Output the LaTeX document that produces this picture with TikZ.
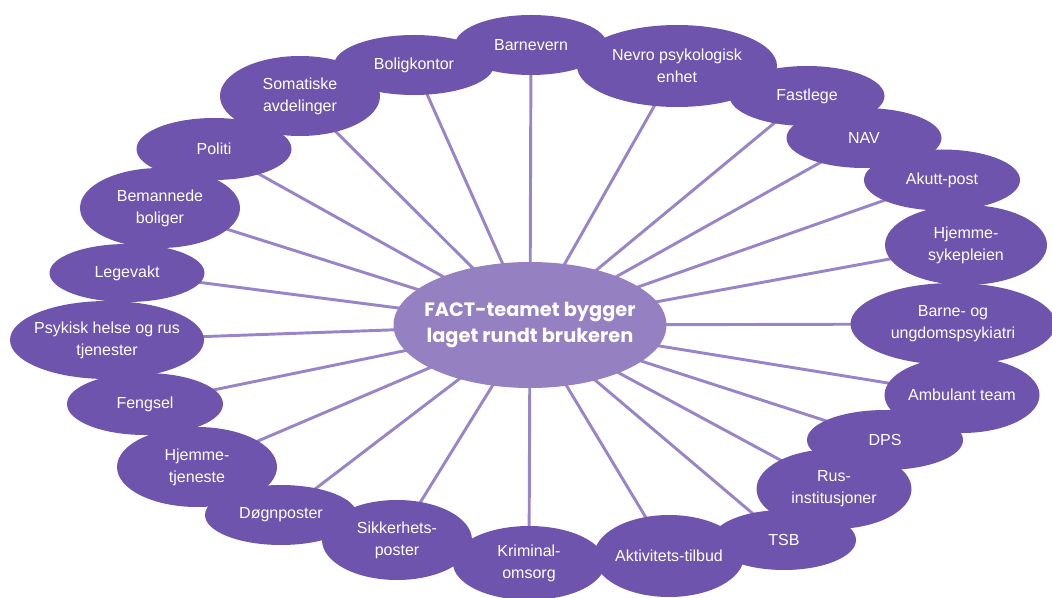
\documentclass[tikz,border=0pt]{standalone}
\usepackage{fontspec}
\setmainfont{Liberation Sans}
\newfontfamily\hubfont{Poppins}
\usetikzlibrary{shapes.geometric}
\definecolor{satpurple}{HTML}{6E54AD}
\definecolor{hubpurple}{HTML}{9580C1}
\definecolor{linkpurple}{HTML}{9A84C8}
\pgfdeclarelayer{bg}
\pgfsetlayers{bg,main}

\begin{document}
\begin{tikzpicture}[x=0.75pt,y=-0.75pt,
  sat/.style={ellipse,fill=satpurple,text=white,inner ysep=0pt,inner xsep=-6pt,align=center,
    font=\fontsize{12}{16.5}\selectfont},
  sz/.style 2 args={minimum width=#1*0.75pt,minimum height=#2*0.75pt},
  hub/.style={ellipse,fill=hubpurple,text=white,inner ysep=0pt,inner xsep=-10pt,align=center,
    font=\hubfont\bfseries\fontsize{14.5}{19.5}\selectfont},
  link/.style={draw=linkpurple,line width=2.2pt}]

\useasboundingbox (0,0) rectangle (1052,598);

\node[hub,sz={273}{126}] (hub) at (530,325) {FACT-teamet bygger\\laget rundt brukeren};

% ring of partners, clockwise from the top
\node[sat,sz={152}{60}] (bv) at (531,45) {Barnevern};
\node[sat,sz={200}{82}] (nev) at (677,66) {Nevro psykologisk\\enhet};
\node[sat,sz={155}{60}] (fas) at (807,96) {Fastlege};
\node[sat,sz={155}{60}] (nav) at (864,138) {NAV};
\node[sat,sz={156}{61}] (aku) at (942,180) {Akutt-post};
\node[sat,sz={162}{80}] (hsy) at (966,245) {Hjemme-\\sykepleien};
\node[sat,sz={205}{82}] (bup) at (953,324) {Barne- og\\ungdomspsykiatri};
\node[sat,sz={155}{76}] (amb) at (962,395) {Ambulant team};
\node[sat,sz={156}{60}] (dps) at (885,440) {DPS};
\node[sat,sz={155}{80}] (rus) at (834,489) {Rus-\\institusjoner};
\node[sat,sz={144}{60}] (tsb) at (784,540) {TSB};
\node[sat,sz={150}{82}] (akt) at (669,556) {Aktivitets-tilbud};
\node[sat,sz={152}{74}] (kri) at (529,563) {Kriminal-\\omsorg};
\node[sat,sz={150}{80}] (sik) at (397,540) {Sikkerhets-\\poster};
\node[sat,sz={152}{60}] (dog) at (281,515) {Døgnposter};
\node[sat,sz={160}{80}] (hjt) at (197,467) {Hjemme-\\tjeneste};
\node[sat,sz={156}{62}] (fen) at (145,404) {Fengsel};
\node[sat,sz={194}{78}] (psy) at (107,340) {Psykisk helse og rus\\tjenester};
\node[sat,sz={155}{58}] (leg) at (127,273) {Legevakt};
\node[sat,sz={160}{80}] (bem) at (160,208) {Bemannede\\boliger};
\node[sat,sz={155}{62}] (pol) at (214,149) {Politi};
\node[sat,sz={160}{80}] (som) at (300,96) {Somatiske\\avdelinger};
\node[sat,sz={160}{60}] (bk) at (414,65) {Boligkontor};

\begin{pgfonlayer}{bg}
\foreach \n in {bv,nev,fas,nav,aku,hsy,bup,amb,dps,rus,tsb,akt,kri,sik,dog,hjt,fen,psy,leg,bem,pol,som,bk}
  \draw[link] (hub.center) -- (\n.center);
\end{pgfonlayer}

\end{tikzpicture}
\end{document}
